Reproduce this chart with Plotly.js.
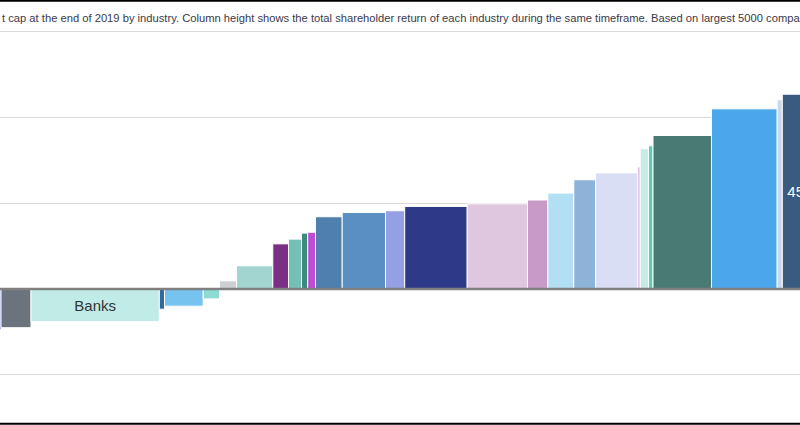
<!DOCTYPE html>
<html>
<head>
<meta charset="utf-8">
<script src="https://cdn.plot.ly/plotly-3.0.1.min.js"></script>
<style>html,body{margin:0;padding:0;background:#fff}#chart{width:800px;height:425px}</style>
</head>
<body>
<div id="chart"></div>
<script>
// Market cap at end of 2019 (column width, relative units) by industry
const industries = ["Ind 1","Ind 2","Banks","Ind 4","Ind 5","Ind 6","Ind 7","Ind 8","Ind 9","Ind 10","Ind 11","Ind 12","Ind 13","Ind 14","Ind 15","Ind 16","Ind 17","Ind 18","Ind 19","Ind 20","Ind 21","Ind 22","Ind 23","Ind 24","Ind 25","Ind 26","Ind 27","Ind 28"];
const marketCap = [6, 30, 128.3, 5.2, 38.7, 16.3, 17, 36.3, 15.7, 13, 6.2, 7.8, 26.7, 43.3, 19.2, 62.5, 60.3, 20.3, 26, 21.7, 42.3, 2.4, 8.3, 4.5, 58.5, 65.7, 5.1, 40];
// Total shareholder return (%) — column height
const tsr = [-9.5, -9.0, -7.6, -4.7, -4.0, -2.3, 1.9, 5.4, 10.5, 11.6, 13.0, 13.2, 16.8, 17.8, 18.2, 19.2, 19.8, 20.7, 22.3, 25.4, 27.0, 28.4, 32.6, 33.3, 35.7, 41.9, 44.0, 45.3];
const barLabels = ["","","Banks","","","","","","","","","","","","","","","","","","","","","","","","","45%"];
const colors = ["#5565d4","#6b747c","#c0ebe6","#2e6a9e","#76c3f0","#8cdcd4","#ccd0d3","#a2d5cf","#7a2e84","#74bfb6","#3e8a7c","#c04bd4","#4f7fac","#5a8fc4","#95a0e4","#2e3a87","#dfc7df","#c79ac7","#b3dff5","#8eb3d9","#dadef5","#d4b0d8","#c8ebe6","#5ccdb8","#497a73","#4ba6ea","#c8d8e8","#3a5b80"];
const labelColors = tsr.map((v,i)=> i===2 ? "#333333" : "#ffffff");
const subtitle = "t cap at the end of 2019 by industry. Column height shows the total shareholder return of each industry during the same timeframe. Based on largest 5000 compa";

const centers = [];
let acc = 0;
marketCap.forEach(w => { centers.push(acc + w/2); acc += w; });

const trace = {
  type: "bar",
  x: centers,
  y: tsr,
  width: marketCap,
  text: barLabels,
  textposition: "inside",
  insidetextanchor: "middle",
  textangle: 0,
  constraintext: "none",
  textfont: {family: "Liberation Sans, Arial, sans-serif", size: 15, color: labelColors},
  hovertext: industries,
  marker: {color: colors, line: {color: "#ffffff", width: 1}},
  showlegend: false
};

const layout = {
  width: 800, height: 425,
  margin: {l: 0, r: 0, t: 0, b: 0},
  paper_bgcolor: "#ffffff", plot_bgcolor: "#ffffff",
  xaxis: {range: [5, 805], showgrid: false, zeroline: false, showticklabels: false, ticks: ""},
  yaxis: {range: [-31.63, 67.21], dtick: 20, tick0: 0, showgrid: true, gridcolor: "#d9d9d9", gridwidth: 1, zeroline: false, showticklabels: false, ticks: ""},
  shapes: [
    {type: "line", xref: "paper", x0: 0, x1: 1, yref: "y", y0: 0, y1: 0, line: {color: "#808080", width: 2.5}, layer: "above"},
    {type: "line", xref: "paper", x0: 0, x1: 1, yref: "paper", y0: 0.9985, y1: 0.9985, line: {color: "#000000", width: 2}},
    {type: "line", xref: "paper", x0: 0, x1: 1, yref: "paper", y0: 0.003, y1: 0.003, line: {color: "#000000", width: 2}}
  ],
  annotations: [
    {xref: "paper", yref: "paper", x: 0, y: 1 - 18/425, xanchor: "left", yanchor: "middle", showarrow: false,
     text: subtitle, font: {family: "Liberation Sans, Arial, sans-serif", size: 11.2, color: "#3a3a4a"}}
  ]
};

Plotly.newPlot("chart", [trace], layout, {displayModeBar: false, staticPlot: true});
</script>
</body>
</html>
